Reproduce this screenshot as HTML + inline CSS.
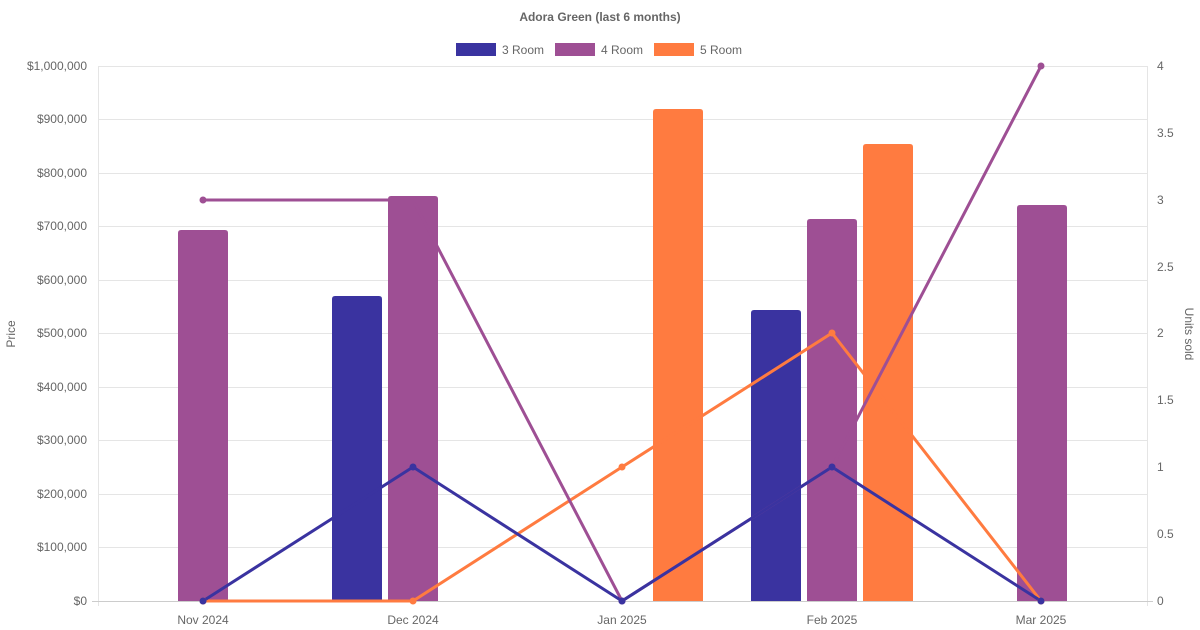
<!DOCTYPE html>
<html><head><meta charset="utf-8"><style>body{margin:0;background:#fff}svg{display:block}text{font-family:"Liberation Sans",sans-serif}</style></head><body>
<svg width="1200" height="630" xmlns="http://www.w3.org/2000/svg">
<text x="600" y="21" text-anchor="middle" font-size="12" font-weight="bold" fill="#666">Adora Green (last 6 months)</text>
<rect x="456" y="43" width="40" height="13" fill="#3a33a0"/><text x="502" y="54" font-size="12" fill="#666">3 Room</text>
<rect x="555" y="43" width="40" height="13" fill="#9e4f94"/><text x="601" y="54" font-size="12" fill="#666">4 Room</text>
<rect x="654" y="43" width="40" height="13" fill="#ff7b40"/><text x="700" y="54" font-size="12" fill="#666">5 Room</text>
<g stroke="#e5e5e5" stroke-width="1">
<line x1="98" y1="66.5" x2="1147" y2="66.5"/><line x1="98" y1="119.5" x2="1147" y2="119.5"/><line x1="98" y1="173.5" x2="1147" y2="173.5"/><line x1="98" y1="226.5" x2="1147" y2="226.5"/><line x1="98" y1="280.5" x2="1147" y2="280.5"/><line x1="98" y1="333.5" x2="1147" y2="333.5"/><line x1="98" y1="387.5" x2="1147" y2="387.5"/><line x1="98" y1="440.5" x2="1147" y2="440.5"/><line x1="98" y1="494.5" x2="1147" y2="494.5"/><line x1="98" y1="547.5" x2="1147" y2="547.5"/>
<line x1="98.5" y1="66" x2="98.5" y2="606"/><line x1="1147.5" y1="66" x2="1147.5" y2="606"/>
<line x1="92" y1="601.5" x2="1153" y2="601.5" stroke="#ccc"/>
</g>
<g font-size="12" fill="#666" text-anchor="end">
<text x="87" y="70">$1,000,000</text><text x="87" y="123">$900,000</text><text x="87" y="177">$800,000</text><text x="87" y="230">$700,000</text><text x="87" y="284">$600,000</text><text x="87" y="337">$500,000</text><text x="87" y="391">$400,000</text><text x="87" y="444">$300,000</text><text x="87" y="498">$200,000</text><text x="87" y="551">$100,000</text><text x="87" y="605">$0</text>
</g>
<g font-size="12" fill="#666">
<text x="1157" y="70">4</text><text x="1157" y="137">3.5</text><text x="1157" y="204">3</text><text x="1157" y="271">2.5</text><text x="1157" y="337">2</text><text x="1157" y="404">1.5</text><text x="1157" y="471">1</text><text x="1157" y="538">0.5</text><text x="1157" y="605">0</text>
</g>
<g font-size="12" fill="#666" text-anchor="middle">
<text x="203" y="624">Nov 2024</text><text x="413" y="624">Dec 2024</text><text x="622" y="624">Jan 2025</text><text x="832" y="624">Feb 2025</text><text x="1041" y="624">Mar 2025</text>
</g>
<text transform="translate(15,334) rotate(-90)" font-size="12" fill="#666" text-anchor="middle">Price</text>
<text transform="translate(1185,334) rotate(90)" font-size="12" fill="#666" text-anchor="middle">Units sold</text>
<g>
<path d="M178,601V233q0-3 3-3h44q3 0 3 3V601Z" fill="#9e4f94"/>
<path d="M332,601V299q0-3 3-3h44q3 0 3 3V601Z" fill="#3a33a0"/>
<path d="M388,601V199q0-3 3-3h44q3 0 3 3V601Z" fill="#9e4f94"/>
<path d="M653,601V112q0-3 3-3h44q3 0 3 3V601Z" fill="#ff7b40"/>
<path d="M751,601V313q0-3 3-3h44q3 0 3 3V601Z" fill="#3a33a0"/>
<path d="M807,601V222q0-3 3-3h44q3 0 3 3V601Z" fill="#9e4f94"/>
<path d="M863,601V147q0-3 3-3h44q3 0 3 3V601Z" fill="#ff7b40"/>
<path d="M1017,601V208q0-3 3-3h44q3 0 3 3V601Z" fill="#9e4f94"/>
</g>
<g fill="none" stroke-width="3">
<polyline points="203,601 413,601 622,467 832,333 1041,601" stroke="#ff7b40"/>
<polyline points="203,200 413,200 622,601 832,467 1041,66" stroke="#9e4f94"/>
<polyline points="203,601 413,467 622,601 832,467 1041,601" stroke="#3a33a0"/>
</g>
<g fill="#ff7b40"><circle cx="203" cy="601" r="3.5"/><circle cx="413" cy="601" r="3.5"/><circle cx="622" cy="467" r="3.5"/><circle cx="832" cy="333" r="3.5"/><circle cx="1041" cy="601" r="3.5"/></g>
<g fill="#9e4f94"><circle cx="203" cy="200" r="3.5"/><circle cx="413" cy="200" r="3.5"/><circle cx="622" cy="601" r="3.5"/><circle cx="832" cy="467" r="3.5"/><circle cx="1041" cy="66" r="3.5"/></g>
<g fill="#3a33a0"><circle cx="203" cy="601" r="3.5"/><circle cx="413" cy="467" r="3.5"/><circle cx="622" cy="601" r="3.5"/><circle cx="832" cy="467" r="3.5"/><circle cx="1041" cy="601" r="3.5"/></g>
</svg>
</body></html>
